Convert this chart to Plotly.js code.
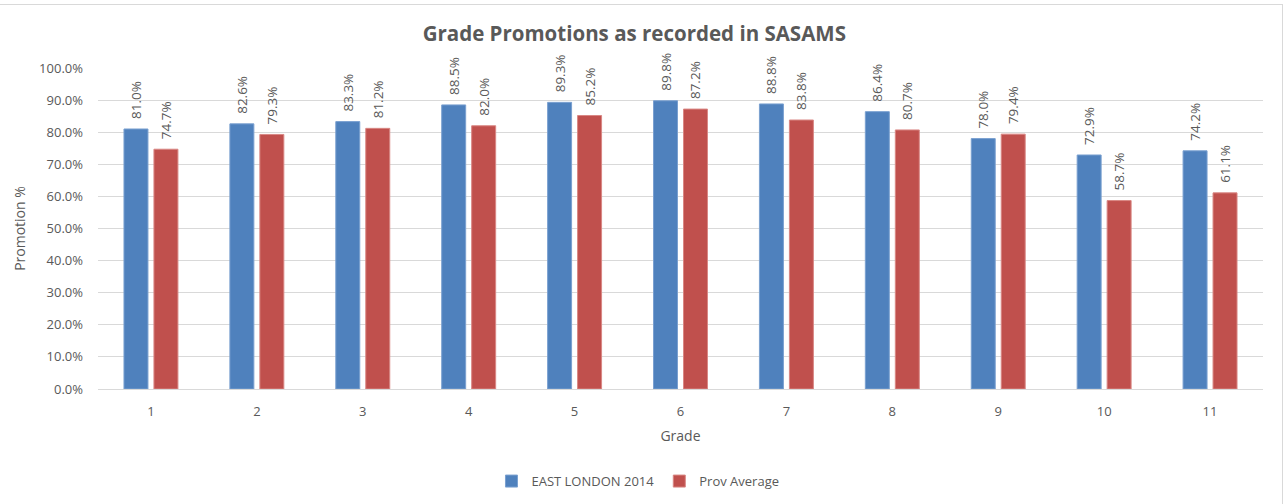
<!DOCTYPE html>
<html>
<head>
<meta charset="utf-8">
<script src="https://cdn.plot.ly/plotly-3.0.1.min.js"></script>
<style>
html,body{margin:0;padding:0;background:#fff;}
#wrap{position:relative;width:1284px;height:504px;overflow:hidden;}
#chart{position:absolute;left:0;top:0;width:1284px;height:504px;}
#frame{position:absolute;left:-1px;top:4px;width:1282px;height:520px;border:1px solid #d9d9d9;pointer-events:none;}
</style>
</head>
<body>
<div id="wrap"><div id="chart"></div><div id="frame"></div></div>
<script>
const grades = ['1','2','3','4','5','6','7','8','9','10','11'];
const eastLondon2014 = [0.810,0.826,0.833,0.885,0.893,0.898,0.888,0.864,0.780,0.729,0.742];
const provAverage = [0.747,0.793,0.812,0.820,0.852,0.872,0.838,0.807,0.794,0.587,0.611];
const seriesNames = ['EAST LONDON 2014','Prov Average'];

const fontFam = '"Open Sans", "Liberation Sans", sans-serif';
const grey = '#595959';

function bar(name, y, color, lineColor){
  return {
    type:'bar', name:name, x:grades, y:y,
    marker:{color:color, line:{color:lineColor, width:1}},
    texttemplate:'\u00a0\u00a0%{y:.1%}', textposition:'outside', textangle:-90,
    textfont:{family:fontFam, size:13.5, color:grey},
    cliponaxis:false, constraintext:'none', hoverinfo:'skip'
  };
}

const data = [
  bar(seriesNames[0], eastLondon2014, '#4F81BD', '#7aa0d0'),
  bar(seriesNames[1], provAverage, '#C0504D', '#d98784')
];

const layout = {
  width:1284, height:504,
  margin:{l:98, r:21, t:68, b:115, autoexpand:false},
  paper_bgcolor:'rgba(0,0,0,0)', plot_bgcolor:'rgba(0,0,0,0)',
  font:{family:fontFam, color:grey, size:13},
  title:{text:'<b>Grade Promotions as recorded in SASAMS</b>', x:0.494, xanchor:'center', y:0.933, yanchor:'middle',
    font:{family:fontFam, size:20.5, color:grey}},
  barmode:'group', bargap:0.434, bargroupgap:0.2,
  showlegend:true,
  legend:{orientation:'h', x:0.4635, xanchor:'center', y:-0.287, yanchor:'middle',
    font:{family:fontFam, size:13, color:grey}, itemwidth:30, traceorder:'normal'},
  xaxis:{type:'category', showgrid:false, zeroline:false, showline:false, ticks:'',
    automargin:false, ticklabelstandoff:13,
    tickfont:{family:fontFam, size:13, color:grey},
    title:{text:'Grade', font:{family:fontFam, size:14, color:grey}, standoff:12}},
  yaxis:{range:[0,1.0], dtick:0.1, tickformat:'.1%', gridcolor:'#d9d9d9', gridwidth:1,
    zeroline:true, zerolinecolor:'#d9d9d9', zerolinewidth:1, showline:false, ticks:'',
    automargin:false, ticklabelstandoff:14, tickfont:{family:fontFam, size:13, color:grey},
    title:{text:'Promotion %', font:{family:fontFam, size:14, color:grey}, standoff:10}}
};

Plotly.newPlot('chart', data, layout, {displayModeBar:false, staticPlot:true});
</script>
</body>
</html>
